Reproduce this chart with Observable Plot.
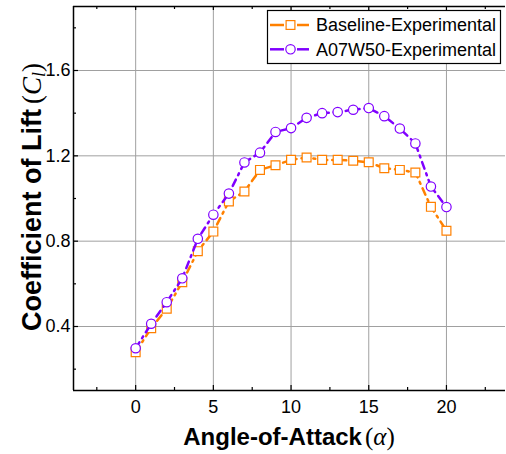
<!DOCTYPE html>
<html><head><meta charset="utf-8">
<script src="https://cdn.jsdelivr.net/npm/d3@7"></script>
<script src="https://cdn.jsdelivr.net/npm/@observablehq/plot@0.6"></script>
<style>body{margin:0;background:#fff}#chart{width:506px;height:454px}</style>
</head><body><div id="chart"></div>
<script>
// ---- data ----
const alpha = [0,1,2,3,4,5,6,7,8,9,10,11,12,13,14,15,16,17,18,19,20];
const baselineCl = [0.280,0.392,0.483,0.608,0.753,0.845,0.986,1.033,1.134,1.156,1.181,1.192,1.181,1.181,1.177,1.170,1.142,1.134,1.122,0.961,0.849];
const a07w50Cl = [0.298,0.413,0.514,0.626,0.811,0.924,1.023,1.169,1.215,1.312,1.330,1.378,1.400,1.405,1.416,1.424,1.386,1.328,1.258,1.056,0.960];
const seriesNames = ["Baseline-Experimental","A07W50-Experimental"];
const seriesColors = ["#ff8000","#8000ff"];
const xMajor = [0,5,10,15,20];
const xMinor = [-2.5,2.5,7.5,12.5,17.5,22.5];
const yMajor = [0.4,0.8,1.2,1.6];
const yMinor = [0.2,0.6,1.0,1.4,1.8];
const xTitle = "Angle-of-Attack";
const yTitle = "Coefficient of Lift";

const baseRows = alpha.map((a,i)=>({alpha:a, cl:baselineCl[i]}));
const a07Rows = alpha.map((a,i)=>({alpha:a, cl:a07w50Cl[i]}));

const W=506,H=454,mL=73,mR=1,mT=6,mB=64;
const pw=W-mL-mR, ph=H-mT-mB;
const dash="7,5,2,5";

const chart = Plot.plot({
  width:W, height:H, marginLeft:mL, marginRight:mR, marginTop:mT, marginBottom:mB,
  x:{domain:[-4,23.8]}, y:{domain:[0.1,1.9]},
  style:{fontFamily:"'Liberation Sans', Arial, sans-serif", fontSize:"18px", color:"#000", background:"#fff"},
  marks:[
    Plot.gridX(xMajor,{stroke:"#a0a0a0", strokeOpacity:1, strokeWidth:1}),
    Plot.gridY(yMajor,{stroke:"#a0a0a0", strokeOpacity:1, strokeWidth:1}),
    Plot.axisX(xMajor,{tickSize:0, tickPadding:10, label:null, fontSize:18}),
    Plot.axisY(yMajor,{tickSize:0, tickPadding:3, label:null, fontSize:18}),
    // inward ticks
    Plot.tickX(xMajor,{x:d=>d, insetTop:ph-5, stroke:"#000", strokeWidth:1.2}),
    Plot.tickX(xMinor,{x:d=>d, insetTop:ph-3, stroke:"#000", strokeWidth:1.2}),
    Plot.tickX(xMajor,{x:d=>d, insetBottom:ph-4, stroke:"#000", strokeWidth:1.2}),
    Plot.tickX(xMinor,{x:d=>d, insetBottom:ph-3, stroke:"#000", strokeWidth:1.2}),
    Plot.tickY(yMajor,{y:d=>d, insetRight:pw-5, stroke:"#000", strokeWidth:1.2}),
    Plot.tickY(yMinor,{y:d=>d, insetRight:pw-3, stroke:"#000", strokeWidth:1.2}),
    // frame (no right side)
    Plot.ruleY([0.1],{stroke:"#000", strokeWidth:1.5}),
    Plot.ruleY([1.9],{stroke:"#000", strokeWidth:1.5}),
    Plot.ruleX([-4],{stroke:"#000", strokeWidth:1.5}),
    // series
    Plot.line(baseRows,{x:"alpha", y:"cl", stroke:seriesColors[0], strokeWidth:2.5, strokeDasharray:dash}),
    Plot.dot(baseRows,{x:"alpha", y:"cl", symbol:"square", r:5, fill:"#fff", stroke:seriesColors[0], strokeWidth:1.2}),
    Plot.line(a07Rows,{x:"alpha", y:"cl", stroke:seriesColors[1], strokeWidth:2.5, strokeDasharray:dash}),
    Plot.dot(a07Rows,{x:"alpha", y:"cl", symbol:"circle", r:4.7, fill:"#fff", stroke:seriesColors[1], strokeWidth:1.2})
  ]
});
document.getElementById("chart").appendChild(chart);

const svg = d3.select(chart);
const sans = "'Liberation Sans', Arial, sans-serif", serif = "'Liberation Serif', serif";
// x title
const xt = svg.append("text").attr("x", 289).attr("y", 445).attr("text-anchor","middle").attr("fill","#000");
xt.append("tspan").attr("font-family",sans).attr("font-weight","bold").attr("font-size",24).text(xTitle);
xt.append("tspan").attr("font-family",serif).attr("font-size",25).attr("dx",3).text("(");
xt.append("tspan").attr("font-family",serif).attr("font-style","italic").attr("font-size",25).text("α");
xt.append("tspan").attr("font-family",serif).attr("font-size",25).text(")");
// y title
const yt = svg.append("text").attr("transform","translate(41,197) rotate(-90)").attr("text-anchor","middle").attr("fill","#000");
yt.append("tspan").attr("font-family",sans).attr("font-weight","bold").attr("font-size",27).text(yTitle);
yt.append("tspan").attr("font-family",serif).attr("font-size",27).attr("dx",5).text("(");
yt.append("tspan").attr("font-family",serif).attr("font-style","italic").attr("font-size",27).text("C");
yt.append("tspan").attr("font-family",serif).attr("font-style","italic").attr("font-size",18).attr("dy",4).text("l");
yt.append("tspan").attr("font-family",serif).attr("font-size",27).attr("dy",-4).text(")");

// legend
const lg = svg.append("g").attr("text-anchor","start");
lg.append("rect").attr("x",267.5).attr("y",10.5).attr("width",233).attr("height",53).attr("fill","#fff").attr("stroke","#000").attr("stroke-width",1.2);
const rowsY=[25,49.3];
seriesNames.forEach((name,i)=>{
  const y=rowsY[i], c=seriesColors[i];
  lg.append("line").attr("x1",270).attr("x2",284).attr("y1",y).attr("y2",y).attr("stroke",c).attr("stroke-width",2.5);
  lg.append("line").attr("x1",297).attr("x2",309).attr("y1",y).attr("y2",y).attr("stroke",c).attr("stroke-width",2.5);
  if(i===0) lg.append("rect").attr("x",290.5-4.4).attr("y",y-4.4).attr("width",8.8).attr("height",8.8).attr("fill","#fff").attr("stroke",c).attr("stroke-width",1.2);
  else lg.append("circle").attr("cx",290.5).attr("cy",y).attr("r",4.7).attr("fill","#fff").attr("stroke",c).attr("stroke-width",1.2);
  lg.append("text").attr("x",316).attr("y",y+6.3).attr("text-anchor","start").attr("font-family",sans).attr("font-size",18).attr("fill","#000").text(name);
});
</script></body></html>
